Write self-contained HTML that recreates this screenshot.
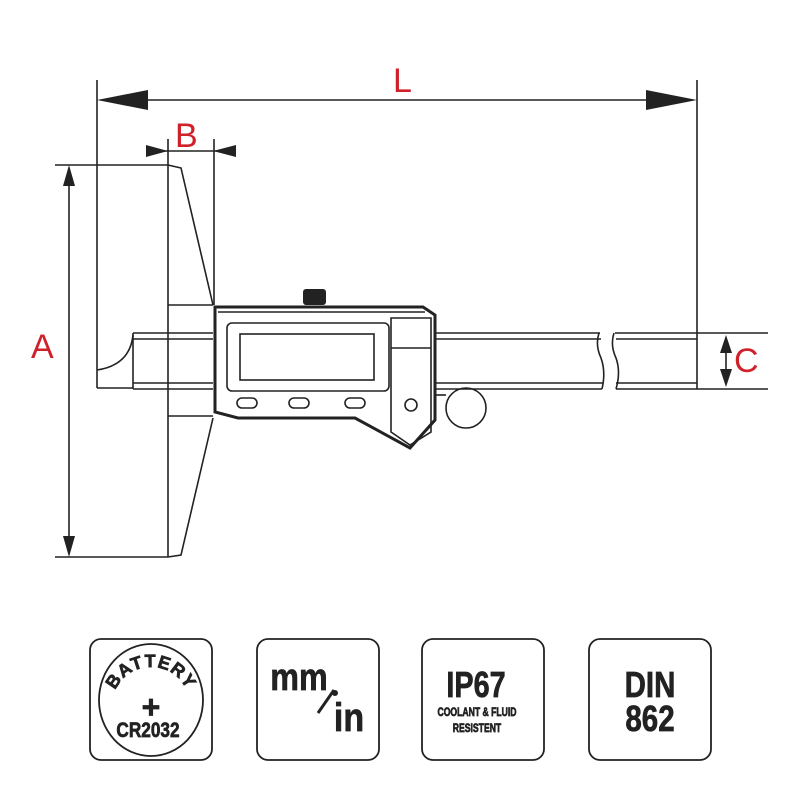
<!DOCTYPE html>
<html><head><style>body{margin:0;background:#fff}svg{display:block}</style></head><body>
<svg width="800" height="800" viewBox="0 0 800 800" xmlns="http://www.w3.org/2000/svg" font-family="Liberation Sans, sans-serif">
<g stroke="#222" stroke-width="1.6" fill="none">
<line x1="97" y1="80" x2="97" y2="388"/>
<line x1="697" y1="80" x2="697" y2="333"/>
<line x1="148" y1="100" x2="646" y2="100"/>
<line x1="168" y1="139" x2="168" y2="165"/>
<line x1="214" y1="139" x2="214" y2="305"/>
<line x1="158" y1="151" x2="224" y2="151"/>
<line x1="55" y1="165" x2="168" y2="165"/>
<line x1="55" y1="557" x2="168" y2="557"/>
<line x1="69" y1="180" x2="69" y2="542"/>
<line x1="697" y1="333" x2="768" y2="333"/>
<line x1="697" y1="389" x2="768" y2="389"/>
<line x1="726" y1="345" x2="726" y2="377"/>
<line x1="168" y1="165" x2="168" y2="557"/>
<polyline points="168,165 181,168 213,305"/>
<polyline points="213,418 181,555 168,557"/>
<line x1="168" y1="305" x2="213" y2="305"/>
<line x1="168" y1="416" x2="213" y2="416"/>
<line x1="97" y1="388" x2="133" y2="388"/>
<path d="M133,335 Q130,365 97,370"/>
<line x1="133" y1="333" x2="133" y2="389"/>
<line x1="133" y1="333" x2="213" y2="333"/>
<line x1="133" y1="339" x2="213" y2="339"/>
<line x1="133" y1="383" x2="213" y2="383"/>
<line x1="133" y1="389" x2="213" y2="389"/>
<line x1="436" y1="333" x2="600" y2="333"/>
<line x1="436" y1="339" x2="601" y2="339"/>
<line x1="436" y1="383" x2="603" y2="383"/>
<line x1="436" y1="389" x2="602" y2="389"/>
<path d="M599,333 Q595,345 601,358 Q606,372 602,389"/>
<path d="M614,333 Q610,345 616,358 Q621,372 616,389"/>
<line x1="615" y1="333" x2="697" y2="333"/>
<line x1="616" y1="339" x2="697" y2="339"/>
<line x1="616" y1="383" x2="697" y2="383"/>
<line x1="616" y1="389" x2="697" y2="389"/>
<line x1="697" y1="333" x2="697" y2="389"/>
<path d="M215,307 L423,307 L435,315 L435,420 L410,448 L355,418 L238,418 L215,412 Z" stroke-width="3"/>
<line x1="218" y1="312" x2="425" y2="312"/>
<rect x="227" y="323" width="162" height="68" rx="5"/>
<rect x="240" y="334" width="134" height="46"/>
<rect x="237" y="398" width="20" height="10" rx="5"/>
<rect x="289" y="398" width="20" height="10" rx="5"/>
<rect x="345" y="398" width="20" height="10" rx="5"/>
<path d="M391,318 L431,318 L431,432 L410,445 L391,432 Z"/>
<line x1="391" y1="348" x2="431" y2="348"/>
<circle cx="411" cy="405" r="6"/>
<circle cx="466" cy="408" r="20"/>
<line x1="436" y1="395" x2="446" y2="395"/>
</g>
<rect x="303" y="289" width="23" height="16" rx="3" fill="#222"/>
<g fill="#222">
<polygon points="97,100 148,90 148,110"/>
<polygon points="697,100 646,90 646,110"/>
<polygon points="168,151 146,145 146,157"/>
<polygon points="213,151 236,145 236,157"/>
<polygon points="69,165 63,186 75,186"/>
<polygon points="69,557 63,536 75,536"/>
<polygon points="726,335 720,353 732,353"/>
<polygon points="726,387 720,369 732,369"/>
</g>
<g fill="#d0202a" font-size="34">
<text x="393" y="92">L</text>
<text x="175" y="147">B</text>
<text x="31" y="358">A</text>
<text x="734" y="372">C</text>
</g>
<g stroke="#222" stroke-width="1.8" fill="none">
<rect x="90" y="639" width="122" height="121" rx="11"/>
<rect x="257" y="639" width="122" height="121" rx="11"/>
<rect x="422" y="639" width="122" height="121" rx="11"/>
<rect x="589" y="639" width="122" height="121" rx="11"/>
<ellipse cx="151" cy="700" rx="52" ry="56"/>
<line x1="318" y1="713" x2="334" y2="690" stroke-width="3"/>
</g>
<circle cx="335" cy="693" r="3" fill="#222"/>
<defs><path id="arc" d="M112,706 A39,39 0 0 1 190,706"/></defs>
<g fill="#222" stroke="#222" stroke-width="0.7" font-weight="bold" text-anchor="middle">
<text font-size="18" letter-spacing="1"><textPath href="#arc" startOffset="50%">BATTERY</textPath></text>
<text x="151" y="718" font-size="32">+</text>
<text transform="translate(148,737) scale(0.82,1)" font-size="21">CR2032</text>
<text transform="translate(299,690) scale(0.85,1)" font-size="38">mm</text>
<text transform="translate(349,731) scale(0.85,1)" font-size="40">in</text>
<text transform="translate(476,697) scale(0.8,1)" font-size="36">IP67</text>
<text transform="translate(477,716) scale(0.72,1)" font-size="12">COOLANT &amp; FLUID</text>
<text transform="translate(477,732) scale(0.72,1)" font-size="12">RESISTENT</text>
<text transform="translate(650,697) scale(0.82,1)" font-size="36">DIN</text>
<text transform="translate(650,731) scale(0.82,1)" font-size="36">862</text>
</g>
</svg>
</body></html>
